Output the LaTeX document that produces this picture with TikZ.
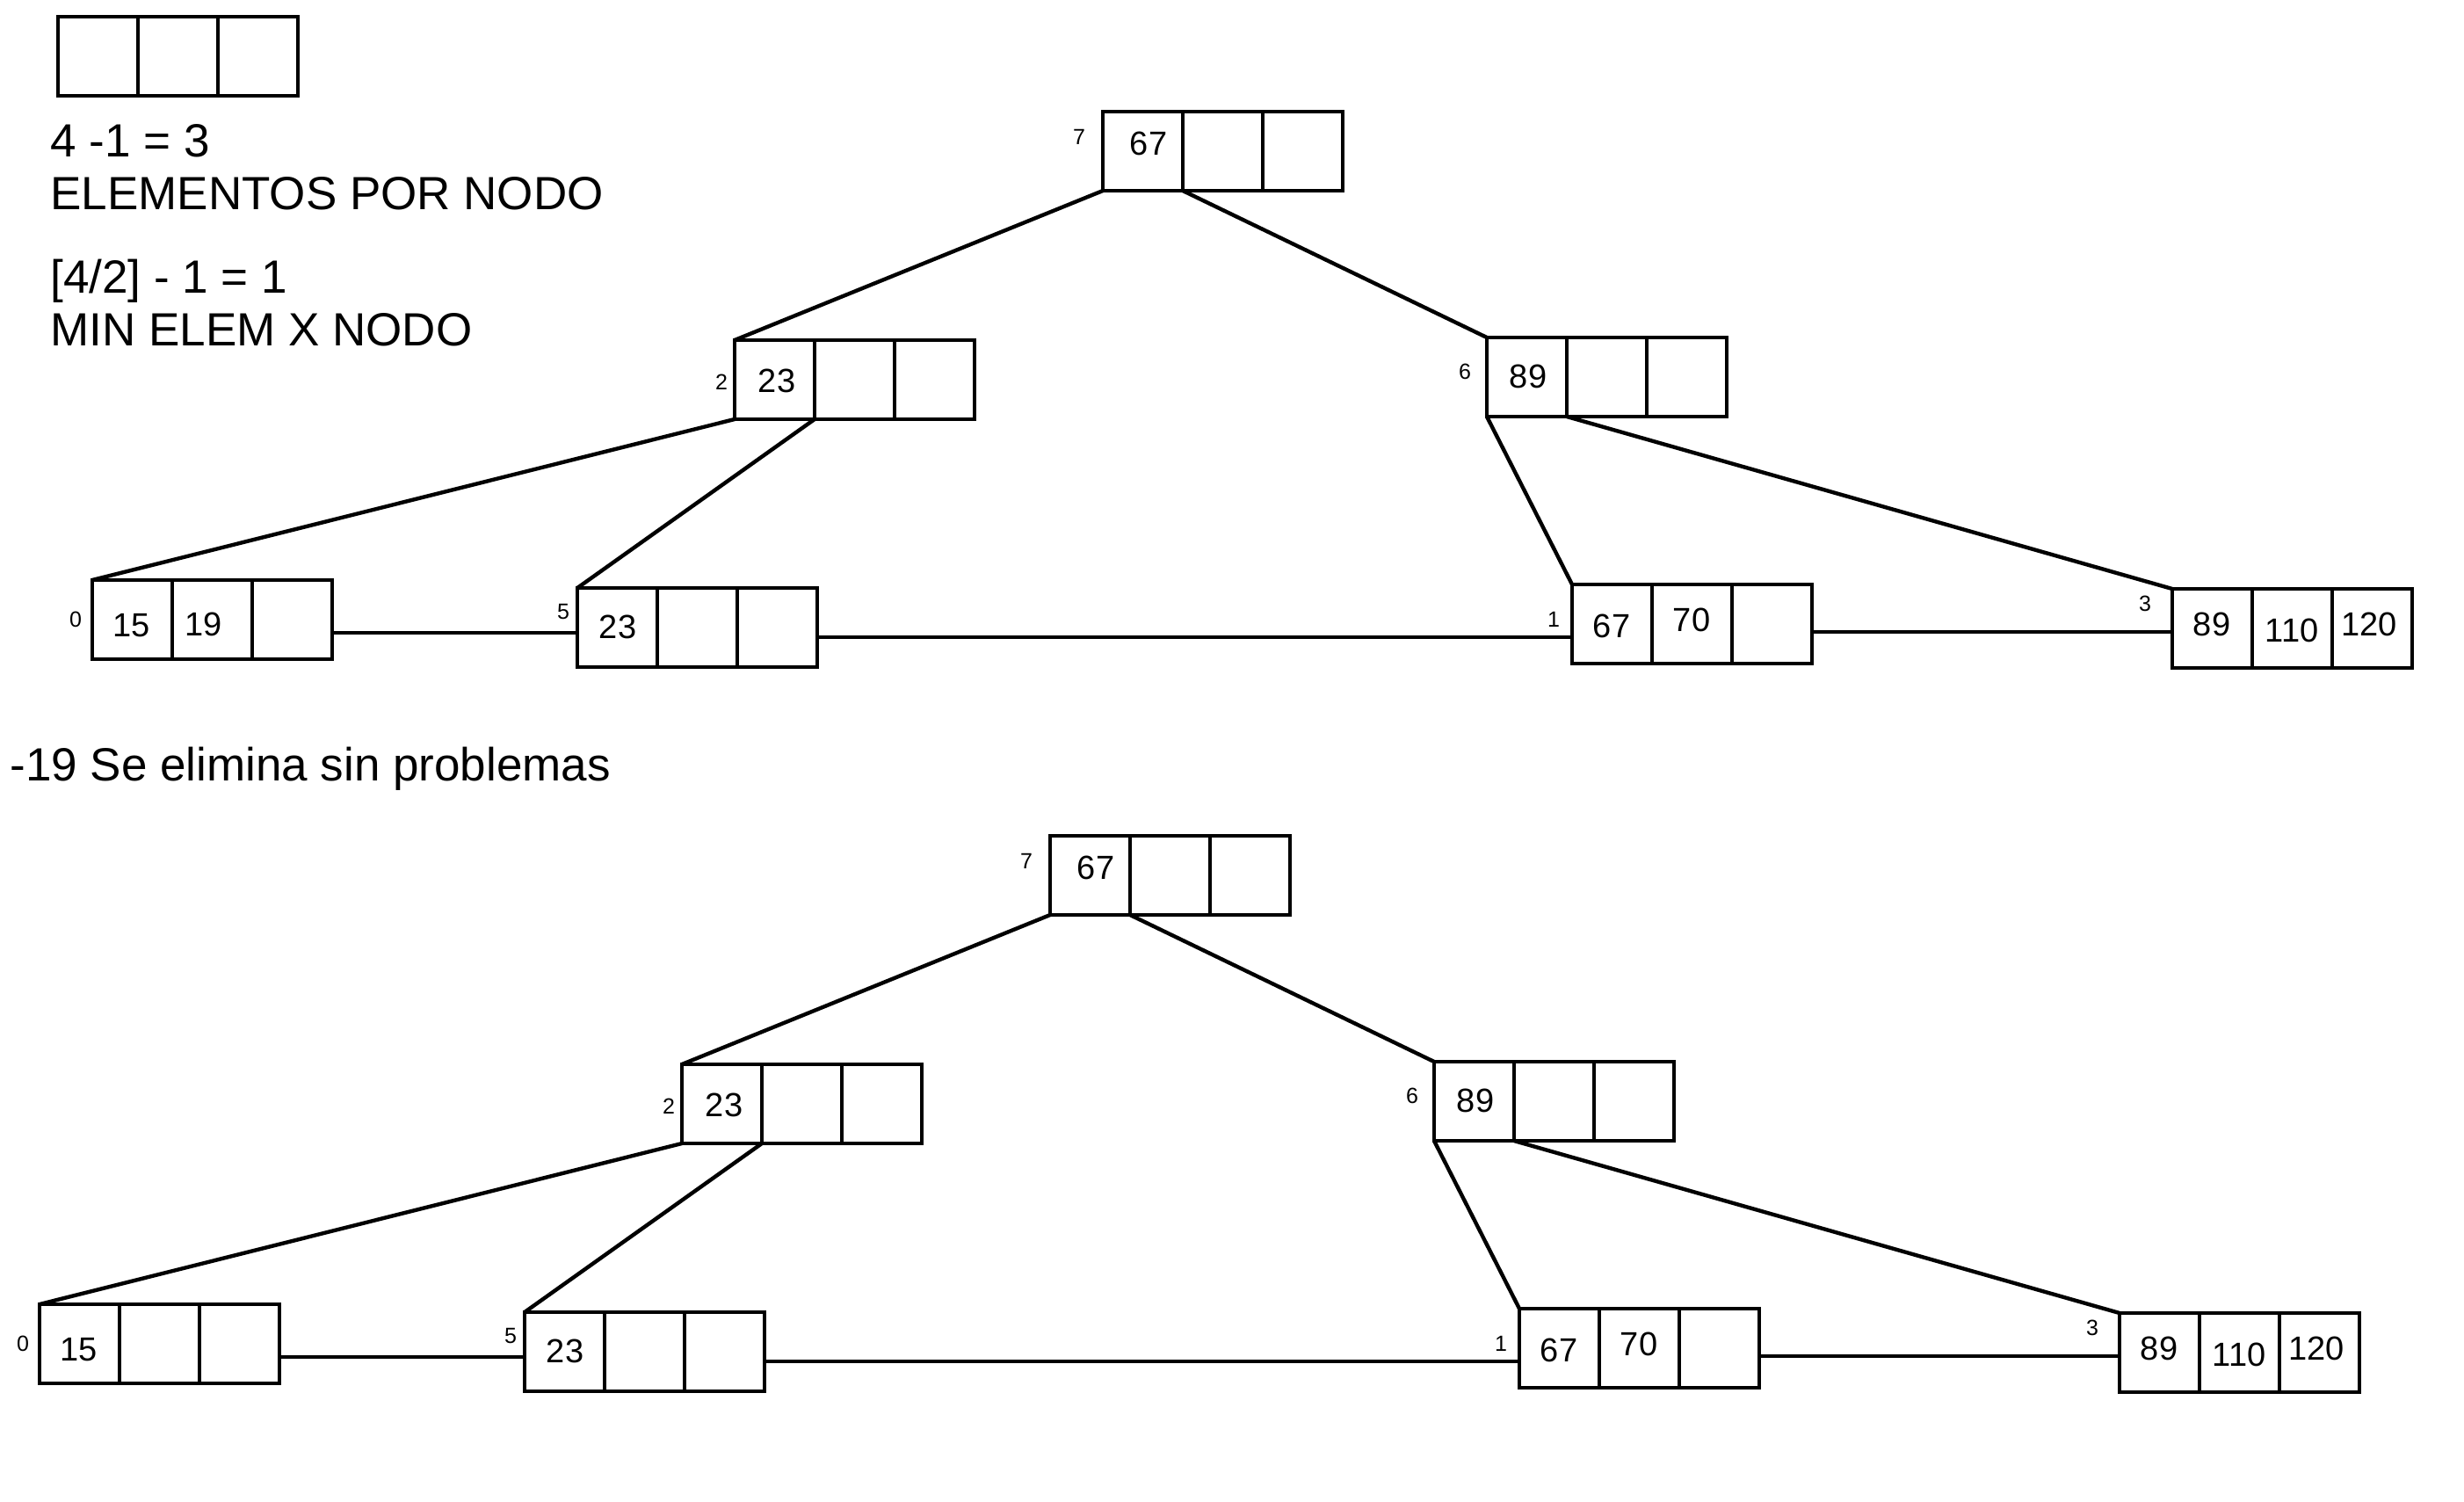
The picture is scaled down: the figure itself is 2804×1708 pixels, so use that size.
\documentclass[tikz,border=0pt]{standalone}
\usepackage{fontspec}
\setmainfont{Liberation Sans}

% one B-tree page: three key cells side by side, top-left corner at (x,y)
\newcommand{\keynode}[3]{%
  \node[cell] (#1-a) at (#2,#3) {};
  \node[cell] (#1-b) at (#1-a.north east) {};
  \node[cell] (#1-c) at (#1-b.north east) {};
}

% the whole tree of order 4; #1 = name prefix, #2 = second key of page 0
\newcommand{\btree}[2]{%
  \keynode{#1r}{1255}{127}
  \keynode{#1p6}{1692}{384}
  \keynode{#1p2}{836}{387}
  \keynode{#1p0}{105}{660}
  \keynode{#1p5}{657}{669}
  \keynode{#1p1}{1789}{665}
  \keynode{#1p3}{2472}{670}
  % keys
  \node[val] (#1k7) at (1307,163) {67};
  \node[val] (#1k6) at (1739,428) {89};
  \node[val] (#1k2) at (884,433) {23};
  \node[val] (#1k0a) at (150,712) {15};
  \node[val] (#1k0b) at (232,710) {#2};
  \node[val] (#1k5) at (703,713) {23};
  \node[val] (#1k1a) at (1834,712) {67};
  \node[val] (#1k1b) at (1925,705) {70};
  \node[val] (#1k3a) at (2517,710) {89};
  \node[val] (#1k3b) at (2608,717) {110};
  \node[val] (#1k3c) at (2696,710) {120};
  % page numbers
  \node[tag] (#1t7) at (1228,156) {7};
  \node[tag] (#1t6) at (1667,423) {6};
  \node[tag] (#1t2) at (821,435) {2};
  \node[tag] (#1t0) at (86,705) {0};
  \node[tag] (#1t5) at (641,696) {5};
  \node[tag] (#1t1) at (1768,705) {1};
  \node[tag] (#1t3) at (2441,687) {3};
  % child pointers
  \draw[link] (#1r-a.south west) -- (#1p2-a.north west);
  \draw[link] (#1r-a.south east) -- (#1p6-a.north west);
  \draw[link] (#1p2-a.south west) -- (#1p0-a.north west);
  \draw[link] (#1p2-a.south east) -- (#1p5-a.north west);
  \draw[link] (#1p6-a.south west) -- (#1p1-a.north west);
  \draw[link] (#1p6-a.south east) -- (#1p3-a.north west);
  % leaf chain
  \coordinate (#1h1) at ([yshift=-3pt]#1p5-a.west);
  \draw[link] (#1h1 -| #1p0-c.east) -- (#1h1);
  \coordinate (#1h2) at ([yshift=-5.5pt]#1p5-c.east);
  \draw[link] (#1h2) -- (#1h2 -| #1p1-a.west);
  \coordinate (#1h3) at ([yshift=-4.5pt]#1p1-c.east);
  \draw[link] (#1h3) -- (#1h3 -| #1p3-a.west);
}

\begin{document}
\begin{tikzpicture}[x=0.5pt,y=-0.5pt,
  cell/.style={draw, line width=2.2pt, minimum width=45.5pt, minimum height=45pt,
    inner sep=0pt, outer sep=0pt, anchor=north west},
  val/.style={inner sep=0pt, font=\fontsize{19}{22}\selectfont},
  tag/.style={inner sep=0pt, font=\fontsize{12.5}{14}\selectfont},
  note/.style={inner sep=0pt, anchor=base west, font=\fontsize{26.5}{30}\selectfont},
  link/.style={line width=2.2pt}]
\useasboundingbox (0,0) rectangle (2804,1708);

% empty page template and the order formulas
\keynode{key}{66}{19}
\node[note] (f1) at (57,178) {4 -1 = 3};
\node[note] (f2) at (57,238) {ELEMENTOS POR NODO};
\node[note] (f3) at (57,333) {[4/2] - 1 = 1};
\node[note] (f4) at (57,393) {MIN ELEM X NODO};

% tree before the deletion
\btree{u}{19}

\node[note] (caption) at (11,888) {-19 Se elimina sin problemas};

% tree after deleting 19
\begin{scope}[shift={(-60,824)}]
  \btree{v}{}
\end{scope}
\end{tikzpicture}
\end{document}
